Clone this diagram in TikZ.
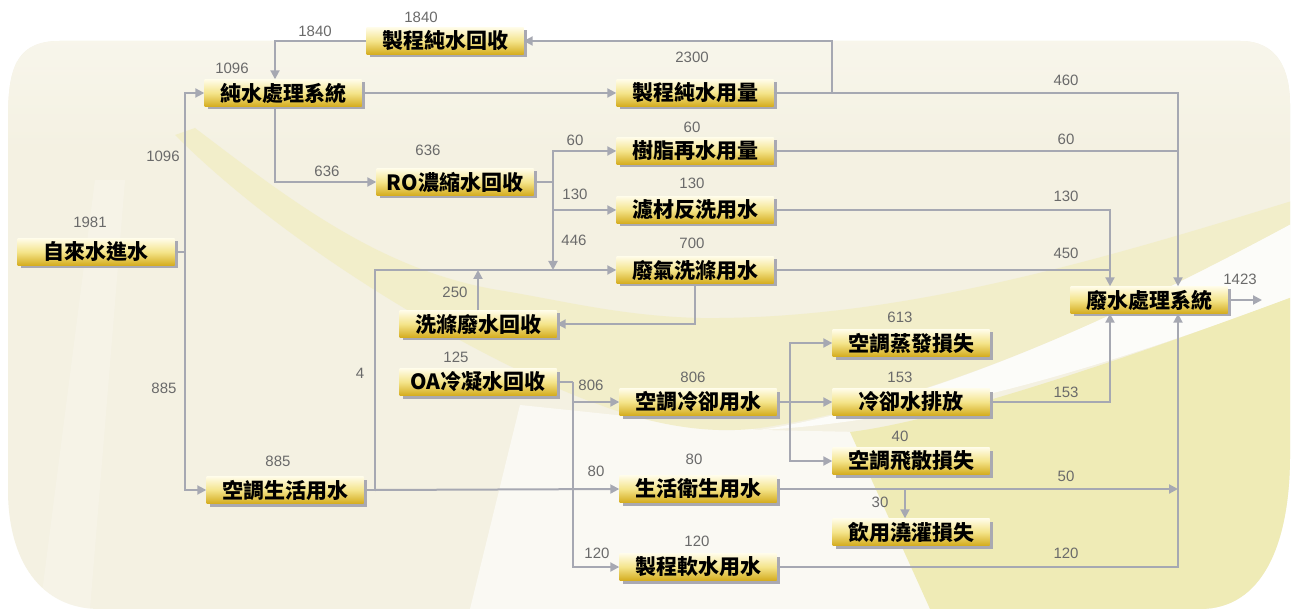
\documentclass[tikz,border=0pt]{standalone}
\usepackage{fontspec}
\setmainfont{Liberation Sans}
\newfontfamily\cjk{Noto Sans CJK TC}
\usetikzlibrary{arrows.meta,shadows}
\definecolor{bgbase}{HTML}{F4F1E2}
\definecolor{bgtop}{HTML}{F8F6EC}
\definecolor{bandyel}{HTML}{F2EECA}
\definecolor{lowyel}{HTML}{EFEBB6}
\definecolor{boxtop}{HTML}{FFFCE8}
\definecolor{boxmid}{HTML}{F4E48A}
\definecolor{boxbot}{HTML}{D4AC1E}
\definecolor{shadowgray}{HTML}{A9A9B2}
\definecolor{linegray}{HTML}{A6A8B2}
\definecolor{numgray}{HTML}{6A6A6A}
\begin{document}
\begin{tikzpicture}[x=1pt,y=-1pt,
  box/.style={minimum width=157pt, minimum height=27pt, inner sep=0pt,
    top color=boxtop, bottom color=boxbot, middle color=boxmid,
    font=\cjk\bfseries\fontsize{21}{21}\selectfont, text=black,
    drop shadow={shadow xshift=3pt, shadow yshift=-3pt, fill=shadowgray, opacity=1}},
  num/.style={text=numgray, font=\fontsize{15}{15}\selectfont, inner sep=0pt},
  flow/.style={draw=linegray, line width=2pt},
  arr/.style={flow, -{Triangle[length=9pt,width=9pt]}}]
\useasboundingbox (0,0) rectangle (1295,609);
% background
\fill[white] (0,0) rectangle (1295,609);
\def\bgpath{(8,120) .. controls (8,70) and (15,41) .. (60,41) -- (1240,41)
  .. controls (1278,41) and (1290,70) .. (1290,105) -- (1290,455)
  .. controls (1290,545) and (1262,609) .. (1200,609) -- (100,609)
  .. controls (40,609) and (8,560) .. (8,490) -- cycle}
\fill[bgbase] \bgpath;
\begin{scope}
\clip \bgpath;
\shade[top color=bgtop, bottom color=bgbase] (0,30) rectangle (1295,150);
\fill[white, opacity=.2] (40,609) -- (95,180) -- (125,180) -- (90,609) -- cycle;
\fill[white, opacity=.6] (470,609) -- (520,405) -- (760,430) -- (860,432) -- (930,609) -- cycle;
\fill[bandyel] (195,128) .. controls (290,200) and (380,270) .. (498,290)
  .. controls (560,300) and (620,316) .. (700,318)
  .. controls (900,320) and (1100,260) .. (1295,200)
  -- (1295,222) .. controls (1150,300) and (950,400) .. (760,428)
  .. controls (700,436) and (640,420) .. (600,405)
  .. controls (500,370) and (300,260) .. (175,135) -- cycle;
\fill[white, opacity=.8] (760,430) .. controls (950,400) and (1150,300) .. (1295,222)
  -- (1295,296) .. controls (1150,350) and (950,420) .. (760,430) -- cycle;
\fill[lowyel] (1295,296) .. controls (1150,350) and (950,420) .. (850,432)
  -- (930,609) -- (1295,609) -- cycle;
\end{scope}
% nodes
\node[box] (recl)  at (445,41)  {製程純水回收};
\node[box] (pure)  at (283,93)  {純水處理系統};
\node[box] (use)   at (695,93)  {製程純水用量};
\node[box] (resin) at (695,151) {樹脂再水用量};
\node[box] (filt)  at (695,210) {濾材反洗用水};
\node[box] (gas)   at (695,270) {廢氣洗滌用水};
\node[box] (ro)    at (455,182) {RO濃縮水回收};
\node[box] (tap)   at (96,252)  {自來水進水};
\node[box] (wash)  at (478,324) {洗滌廢水回收};
\node[box] (oa)    at (478,382) {OA冷凝水回收};
\node[box] (cool)  at (698,402) {空調冷卻用水};
\node[box] (ac)    at (285,490) {空調生活用水};
\node[box] (life)  at (698,489) {生活衛生用水};
\node[box] (soft)  at (698,567) {製程軟水用水};
\node[box] (evap)  at (911,343) {空調蒸發損失};
\node[box] (dis)   at (911,402) {冷卻水排放};
\node[box] (fly)   at (911,461) {空調飛散損失};
\node[box] (drink) at (911,532) {飲用澆灌損失};
\node[box] (ww)    at (1149,300) {廢水處理系統};
% junction coordinates
\coordinate (jL) at (185,252);
\coordinate (cR) at (832,93);
\coordinate (xA) at (1110,0);
\coordinate (xB) at (1178,0);
\coordinate (jRO) at (553,182);
\coordinate (jAC) at (375,490);
\coordinate (jOA) at (573,382);
\coordinate (jC) at (790,402);
\coordinate (jD) at (905,489);
\coordinate (out) at (1262,300);
% connectors
\draw[flow] (tap.east) -- (jL);
\draw[arr] (jL) |- (pure.west);
\draw[arr] (jL) |- (ac.west);
\draw[arr] (use.east) -- (cR) |- (recl.east);
\draw[arr] (recl.west) -| ([xshift=-8pt]pure.north);
\draw[arr] (pure.east) -- (use.west);
\draw[arr] ([xshift=-8pt]pure.south) |- (ro.west);
\draw[arr] (cR) -| (xB |- ww.north);
\draw[flow] (resin.east) -- (resin.east -| xB);
\draw[flow] (ro.east) -- (jRO);
\draw[arr] (jRO) |- (resin.west);
\draw[arr] (jRO) |- (filt.west);
\draw[arr] (jRO) -- (jRO |- gas.west);
\draw[arr] (filt.east) -| (xA |- ww.north);
\draw[flow] (gas.east) -- (gas.east -| xA);
\draw[flow] (ac.east) -- (jAC);
\draw[arr] (jAC) |- (gas.west);
\draw[arr] (jAC) -- (life.west);
\draw[arr] (wash.north) -- (wash.north |- gas.west);
\draw[arr] (gas.south) |- (wash.east);
\draw[flow] (oa.east) -- (jOA);
\draw[arr] (jOA) |- (cool.west);
\draw[arr] (jOA) |- (soft.west);
\draw[arr] (cool.east) -- (dis.west);
\draw[arr] (jC) |- (evap.west);
\draw[arr] (jC) |- (fly.west);
\draw[arr] (dis.east) -| (xA |- ww.south);
\draw[arr] (life.east) -- (life.east -| xB);
\draw[arr] (jD) -- (jD |- drink.north);
\draw[arr] (soft.east) -| (xB |- ww.south);
\draw[arr] (ww.east) -- (out);
% labels
\node[num] at (421,17)  {1840};
\node[num] at (315,31)  {1840};
\node[num] at (232,68)  {1096};
\node[num] at (163,156) {1096};
\node[num] at (692,57)  {2300};
\node[num] at (428,150) {636};
\node[num] at (327,171) {636};
\node[num] at (575,140) {60};
\node[num] at (692,127) {60};
\node[num] at (575,194) {130};
\node[num] at (692,183) {130};
\node[num] at (574,240) {446};
\node[num] at (692,243) {700};
\node[num] at (90,222)  {1981};
\node[num] at (455,292) {250};
\node[num] at (360,373) {4};
\node[num] at (164,388) {885};
\node[num] at (278,461) {885};
\node[num] at (456,357) {125};
\node[num] at (591,385) {806};
\node[num] at (693,377) {806};
\node[num] at (596,471) {80};
\node[num] at (694,459) {80};
\node[num] at (597,553) {120};
\node[num] at (697,541) {120};
\node[num] at (900,317) {613};
\node[num] at (900,377) {153};
\node[num] at (900,436) {40};
\node[num] at (880,502) {30};
\node[num] at (1066,80)  {460};
\node[num] at (1066,139) {60};
\node[num] at (1066,196) {130};
\node[num] at (1066,253) {450};
\node[num] at (1240,279) {1423};
\node[num] at (1066,392) {153};
\node[num] at (1066,476) {50};
\node[num] at (1066,553) {120};
\end{tikzpicture}
\end{document}
